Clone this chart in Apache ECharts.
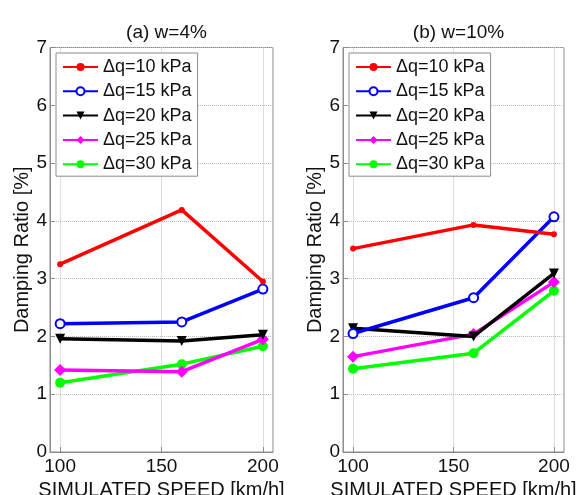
<!DOCTYPE html>
<html>
<head>
<meta charset="utf-8">
<script src="https://cdn.jsdelivr.net/npm/echarts@6/dist/echarts.min.js"></script>
<style>html,body{margin:0;padding:0;background:#fff}#c{width:582px;height:495px}</style>
</head>
<body>
<div id="c"></div>
<script>
var speeds = [100, 160, 200];
var xTicks = [100, 150, 200];
var seriesNames = ['Δq=10 kPa', 'Δq=15 kPa', 'Δq=20 kPa', 'Δq=25 kPa', 'Δq=30 kPa'];
var panelTitles = ['(a) w=4%', '(b) w=10%'];
// panel (a) w=4%
var a_q10 = [3.25, 4.19, 2.95];
var a_q15 = [2.22, 2.25, 2.82];
var a_q20 = [1.96, 1.92, 2.03];
var a_q25 = [1.42, 1.39, 1.95];
var a_q30 = [1.20, 1.52, 1.83];
// panel (b) w=10%
var b_q10 = [3.52, 3.93, 3.77];
var b_q15 = [2.05, 2.67, 4.07];
var b_q20 = [2.14, 2.00, 3.09];
var b_q25 = [1.65, 2.04, 2.94];
var b_q30 = [1.44, 1.71, 2.79];

var colors = ['#ff0000', '#0000ff', '#000000', '#ff00ff', '#00ff00'];
var symbols = ['circle', 'emptyCircle', 'triangle', 'diamond', 'circle'];
var symbolSizes = [6, 9, 10, 12, 10];
var symbolRotates = [0, 0, 180, 0, 0];
var FONT = '"Liberation Sans", Arial, sans-serif';

var panels = [[a_q10, a_q15, a_q20, a_q25, a_q30], [b_q10, b_q15, b_q20, b_q25, b_q30]];
var gridLeft = [50, 343];
var gridW = [223, 221];

function pairs(vals) { return speeds.map(function (s, i) { return [s, vals[i]]; }); }

var grids = [], xAxes = [], yAxes = [], series = [], titles = [], legends = [];
panels.forEach(function (panel, p) {
  grids.push({ left: gridLeft[p], top: 47.5, width: gridW[p], height: 404.5, containLabel: false, outerBoundsMode: 'none',
    show: true, borderColor: '#8c8c8c', borderWidth: 1, backgroundColor: '#fff' });
  xAxes.push({
    gridIndex: p, type: 'value', min: 95, max: 205,
    name: 'SIMULATED SPEED [km/h]', nameLocation: 'middle', nameGap: 22,
    nameTextStyle: { fontSize: 20, color: '#111', fontFamily: FONT },
    axisLine: { show: true, lineStyle: { color: '#8c8c8c', width: 1 } },
    axisTick: { show: true, inside: true, length: 5, customValues: xTicks, lineStyle: { color: '#8c8c8c' } },
    axisLabel: { customValues: xTicks, fontSize: 19, color: '#111', margin: 5, fontFamily: FONT },
    splitLine: { show: true, lineStyle: { color: '#bdbdbd', type: 'dotted', width: 1 } }
  });
  yAxes.push({
    gridIndex: p, type: 'value', min: 0, max: 7, interval: 1,
    name: 'Damping Ratio [%]', nameLocation: 'middle', nameGap: 18, nameRotate: 90,
    nameTextStyle: { fontSize: 20, color: '#111', fontFamily: FONT },
    axisLine: { show: true, lineStyle: { color: '#8c8c8c', width: 1 } },
    axisTick: { show: true, inside: true, length: 5, lineStyle: { color: '#8c8c8c' } },
    axisLabel: { fontSize: 19, color: '#111', margin: 3, fontFamily: FONT },
    splitLine: { show: true, lineStyle: { color: '#bdbdbd', type: 'dotted', width: 1 } }
  });
  titles.push({ text: panelTitles[p], left: gridLeft[p] + gridW[p] / 2, top: 18, textAlign: 'center',
    textStyle: { fontSize: 19, fontWeight: 'normal', color: '#111', fontFamily: FONT } });
  legends.push({
    left: gridLeft[p] + 6, top: 53, orient: 'vertical', data: seriesNames,
    backgroundColor: '#fff', borderColor: '#8c8c8c', borderWidth: 1,
    padding: [5, 6, 3, 6], itemGap: 6.3, itemWidth: 35, itemHeight: 10,
    textStyle: { fontSize: 18, color: '#111', fontFamily: FONT, lineHeight: 18 },
    selectedMode: false
  });
  panel.forEach(function (vals, k) {
    series.push({
      name: seriesNames[k], type: 'line', xAxisIndex: p, yAxisIndex: p,
      data: pairs(vals), symbol: symbols[k], symbolSize: symbolSizes[k], symbolRotate: symbolRotates[k],
      showAllSymbol: true,
      lineStyle: { color: colors[k], width: 3.5 },
      itemStyle: { color: colors[k], borderColor: colors[k], borderWidth: k === 1 ? 2 : 0 },
      z: 10 - k, animation: false
    });
  });
});

var chart = echarts.init(document.getElementById('c'), null, { renderer: 'canvas' });
chart.setOption({
  backgroundColor: '#fff', animation: false,
  title: titles, legend: legends, grid: grids, xAxis: xAxes, yAxis: yAxes, series: series
});
</script>
</body>
</html>
